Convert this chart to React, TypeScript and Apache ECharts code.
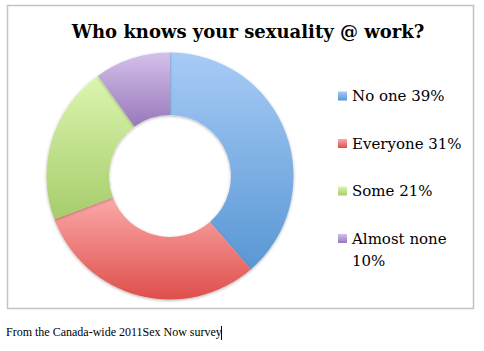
import React, { useEffect, useRef } from "react";
import * as echarts from "echarts";

const categories = ["No one", "Everyone", "Some", "Almost none"];
const values = [39, 31, 21, 10];
const legendLabels = ["No one 39%", "Everyone 31%", "Some 21%", "Almost none\n10%"];
const topColors = ["#a8cbf6", "#fbaaa8", "#dcf6b0", "#d5c0ea"];
const bottomColors = ["#5897d4", "#de4f4c", "#a6cc6a", "#9878bb"];
const titleText = "Who knows your sexuality @ work?";
const captionText = "From the Canada-wide 2011Sex Now survey";

export default function App() {
  const ref = useRef<HTMLDivElement>(null);
  useEffect(() => {
    if (!ref.current) return;
    const chart = echarts.init(ref.current, undefined, { renderer: "svg" });
    const legendItems: any[] = [];
    legendLabels.forEach((lab, i) => {
      const y = 96 + i * 47.5;
      legendItems.push({
        type: "rect",
        shape: { x: 338, y: y - 4.5, width: 9, height: 9 },
        style: {
          fill: new echarts.graphic.LinearGradient(0, 0, 0, 1, [
            { offset: 0, color: topColors[i] },
            { offset: 1, color: bottomColors[i] },
          ]),
        },
      });
      legendItems.push({
        type: "text",
        x: 352,
        y: y - 11,
        style: {
          text: lab,
          font: "15px 'DejaVu Serif', serif",
          fill: "#000",
          lineHeight: 22,
          textVerticalAlign: "top",
        },
      });
    });
    chart.setOption({
      animation: false,
      title: {
        text: titleText,
        left: 243,
        textAlign: "center",
        top: 17,
        textStyle: {
          fontFamily: "'DejaVu Serif', serif",
          fontWeight: "bold",
          fontSize: 18,
          color: "#000",
        },
      },
      series: [
        {
          type: "pie",
          center: [170, 176],
          radius: [61, 123.5],
          startAngle: 90,
          clockwise: true,
          silent: true,
          label: { show: false },
          labelLine: { show: false },
          emphasis: { disabled: true },
          data: categories.map((c, i) => ({
            name: c,
            value: values[i],
            itemStyle: {
              color: new echarts.graphic.LinearGradient(0, 0, 0, 1, [
                { offset: 0, color: topColors[i] },
                { offset: 1, color: bottomColors[i] },
              ]),
              shadowBlur: 3,
              shadowOffsetY: 1,
              shadowColor: "rgba(0,0,0,0.3)",
            },
          })),
        },
      ],
      graphic: [
        {
          type: "rect",
          shape: { x: 7.5, y: 5.5, width: 466, height: 303 },
          style: { fill: "none", stroke: "#c4c4c4", lineWidth: 1.5 },
          z: -1,
        },
        ...legendItems,
        {
          type: "text",
          x: 6,
          y: 332,
          style: {
            text: captionText,
            font: "12px 'Liberation Serif', serif",
            fill: "#000",
            textVerticalAlign: "middle",
          },
        },
        {
          type: "line",
          shape: { x1: 221.5, y1: 326, x2: 221.5, y2: 340 },
          style: { stroke: "#000", lineWidth: 1 },
        },
      ],
    });
    return () => chart.dispose();
  }, []);
  return (
    <div
      ref={ref}
      style={{ position: "absolute", left: 0, top: 0, width: 484, height: 351, background: "#fff" }}
    />
  );
}
